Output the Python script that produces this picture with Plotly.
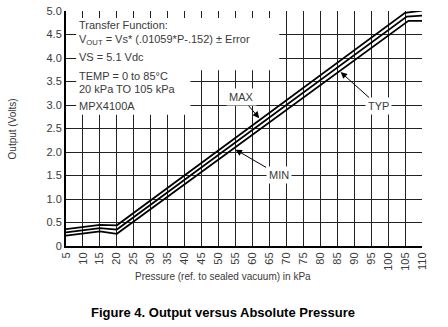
import plotly.graph_objects as go

# ---- data ----
p_max = [5, 15, 20, 105, 110]
v_max = [0.36, 0.45, 0.44, 4.96, 5.01]
p_typ = [5, 15, 20, 105.5, 110]
v_typ = [0.29, 0.38, 0.35, 4.88, 4.90]
p_min = [5, 15, 20, 106, 110]
v_min = [0.22, 0.31, 0.26, 4.79, 4.79]

x_ticks = list(range(5, 115, 5))
y_ticks = [0, 0.5, 1.0, 1.5, 2.0, 2.5, 3.0, 3.5, 4.0, 4.5, 5.0]
y_ticktext = ["0", "0.5", "1.0", "1.5", "2.0", "2.5", "3.0", "3.5", "4.0", "4.5", "5.0"]

box_lines = [
    "Transfer Function:",
    "V<sub>OUT</sub> = Vs* (.01059*P-.152) ± Error",
    "VS = 5.1 Vdc",
    "TEMP = 0 to 85°C",
    "20 kPa TO 105 kPa",
    "MPX4100A",
]
box_line_y = [4.70, 4.38, 4.02, 3.62, 3.34, 2.98]

FONT = "Liberation Sans, Arial, sans-serif"
GRAY = "#3a3a3a"

fig = go.Figure()
for xs, ys in [(p_max, v_max), (p_typ, v_typ), (p_min, v_min)]:
    fig.add_trace(go.Scatter(x=xs, y=ys, mode="lines",
                             line=dict(color="black", width=1.8),
                             showlegend=False, hoverinfo="skip"))

# white panels behind the transfer-function text (hide the grid there)
fig.add_shape(type="rect", xref="x", yref="y", x0=8.0, x1=67.9, y0=3.74, y1=4.85,
              fillcolor="white", line=dict(width=0), layer="between")
fig.add_shape(type="rect", xref="x", yref="y", x0=8.0, x1=41.7, y0=2.79, y1=3.76,
              fillcolor="white", line=dict(width=0), layer="between")

for txt, yy in zip(box_lines, box_line_y):
    fig.add_annotation(x=8.3, y=yy, xref="x", yref="y", text=txt, showarrow=False,
                       xanchor="left", yanchor="middle",
                       font=dict(family=FONT, size=11, color=GRAY))

# MAX / MIN / TYP callouts
callouts = [("MAX", 62, 2.72, -18, -21), ("MIN", 55, 2.05, 43, 25), ("TYP", 86, 3.70, 38, 34)]
for txt, px, py, ax, ay in callouts:
    fig.add_annotation(x=px, y=py, xref="x", yref="y", text=txt, showarrow=True,
                       ax=ax, ay=ay, arrowhead=2, arrowsize=1.3, arrowwidth=1,
                       arrowcolor="black", standoff=0, bgcolor="white", borderpad=2,
                       font=dict(family=FONT, size=11, color=GRAY))

# axis titles and figure caption
fig.add_annotation(x=0.44, y=-0.128, xref="paper", yref="paper",
                   text="Pressure (ref. to sealed vacuum) in kPa", showarrow=False,
                   xanchor="center", yanchor="middle",
                   font=dict(family=FONT, size=10, color=GRAY))
fig.add_annotation(x=-0.149, y=0.5, xref="paper", yref="paper",
                   text="Output (Volts)", showarrow=False, textangle=-90,
                   xanchor="center", yanchor="middle",
                   font=dict(family=FONT, size=10, color=GRAY))
fig.add_annotation(x=0.442, y=-0.283, xref="paper", yref="paper",
                   text="<b>Figure 4. Output versus Absolute Pressure</b>", showarrow=False,
                   xanchor="center", yanchor="middle",
                   font=dict(family=FONT, size=13, color="black"))

fig.update_xaxes(range=[5, 110], tickvals=x_ticks, tickangle=-90, automargin=False,
                 showgrid=True, gridcolor="#222", gridwidth=1,
                 showline=True, linecolor="black", linewidth=2, zeroline=False,
                 ticks="", tickfont=dict(family=FONT, size=11, color=GRAY))
fig.update_yaxes(range=[0, 5], tickvals=y_ticks, ticktext=y_ticktext, automargin=False,
                 showgrid=True, gridcolor="#222", gridwidth=1,
                 showline=True, linecolor="black", linewidth=2, zeroline=False,
                 ticks="", tickfont=dict(family=FONT, size=11, color=GRAY))

fig.update_layout(width=448, height=327, margin=dict(l=66, r=26, t=11, b=81),
                  paper_bgcolor="white", plot_bgcolor="white")

fig.write_html("out.html")
